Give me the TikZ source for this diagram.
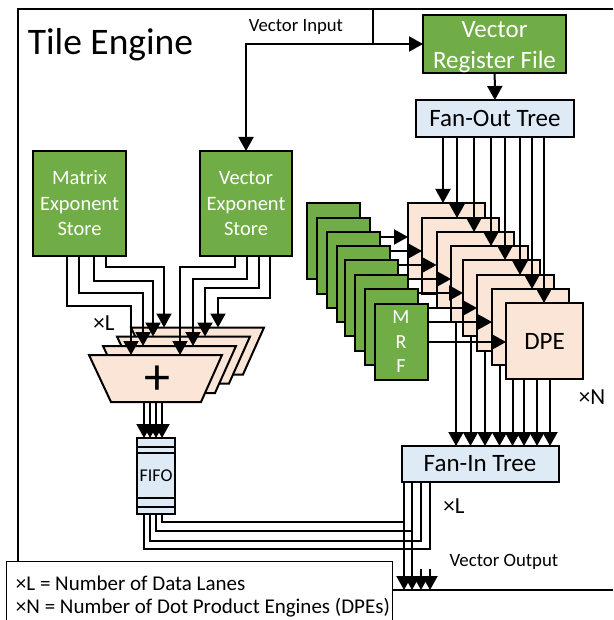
\documentclass[tikz,border=0pt]{standalone}
\usepackage{fontspec}
\setmainfont{Carlito}
\usetikzlibrary{arrows.meta}
\definecolor{mygreen}{HTML}{70AD47}
\definecolor{myblue}{HTML}{DEEAF6}
\definecolor{mypeach}{HTML}{FBE5D6}
\newcommand{\fsize}[1]{\fontsize{#1}{#1}\selectfont}
\tikzset{
  box/.style={draw=black,line width=2pt,rectangle,inner sep=0pt,outer sep=0pt},
  store/.style={box,fill=mygreen,text=white,align=center,minimum width=93pt,minimum height=105pt,font=\fontsize{20.5}{25.5}\selectfont},
  mrf/.style={box,fill=mygreen,text=white,align=center,minimum width=53pt,minimum height=76pt,font=\fontsize{20}{24.5}\selectfont},
  dpe/.style={box,fill=mypeach,minimum width=77pt,minimum height=76pt,font=\fsize{25}},
  tree/.style={box,fill=myblue,font=\fsize{25}},
  adder/.style={draw=black,line width=2pt,fill=mypeach},
  wire/.style={line width=2pt,>={Triangle[width=15pt,length=14pt]}},
  label/.style={inner sep=0pt,outer sep=0pt}
}
\begin{document}
\begin{tikzpicture}[x=1pt,y=-1pt]
\useasboundingbox (0,0) rectangle (613,620);
\coordinate (frame a) at (613,9);
\coordinate (frame b) at (18,9);
\coordinate (frame c) at (18,590);
\coordinate (frame d) at (613,590);
\draw[line width=1.5pt] (frame a) -- (frame b) -- (frame c) -- (frame d);

\node[label,font=\fsize{37.5}] (title) at (110.5,45) {Tile Engine};
\node[label,font=\fsize{18.7}] (vecin) at (296,27) {Vector Input};
\node[label,font=\fsize{18.8}] (vecout) at (504,562) {Vector Output};

\node[store,minimum width=143pt,minimum height=58pt,font=\fontsize{25}{31}\selectfont,text depth=0pt] (vrf) at (494.5,44) {\raisebox{-2.5pt}{Vector}\\\raisebox{-2.5pt}{Register File}};
\node[tree,minimum width=158pt,minimum height=37pt] (fanout) at (495,118.5) {\raisebox{-1.5pt}{Fan-Out Tree}};
\node[tree,minimum width=157pt,minimum height=36pt] (fanin) at (480,464) {\raisebox{-1.5pt}{Fan-In Tree}};
\node[store] (mes) at (79.5,203.5) {\raisebox{-1pt}{Matrix}\\\raisebox{-1pt}{Exponent}\\\raisebox{-1pt}{Store}};
\node[store,minimum width=92pt] (ves) at (246,203.5) {\raisebox{-1pt}{Vector}\\\raisebox{-1pt}{Exponent}\\\raisebox{-1pt}{Store}};

% dot product engines and their register files
\foreach \i/\x/\y in {1/333.5/241,2/343.5/256,3/353.5/270,4/363.5/284,5/371.5/298,6/381.5/313,7/391.5/327}
  \node[mrf] (mrf\i) at (\x,\y) {};
\node[mrf] (mrf8) at (401,342) {M\\R\\F};
\foreach \i/\x/\y in {1/446.5/241,2/460.5/256,3/475/270,4/489.5/284,5/501.5/298,6/515.5/313,7/530.5/327}
  \node[dpe] (dpe\i) at (\x,\y) {};
\node[dpe] (dpe8) at (544.5,341) {DPE};

% adders
\foreach \i/\x/\y in {1/197.5/351,2/183.5/360,3/169.5/369.5,4/155.5/378.5} {
  \draw[adder] (\x-66.5,\y-23.5) -- (\x+66.5,\y-23.5) -- (\x+45.5,\y+23.5) -- (\x-44.5,\y+23.5) -- cycle;
  \coordinate (adder\i) at (\x,\y-23.5);
}
\coordinate (adderout) at (155.5,402);
\node[label,font=\fsize{52}] (plus) at (157,380) {+};

\node[box,fill=myblue,minimum width=38pt,minimum height=76pt,font=\fsize{18}] (fifo) at (156,476) {FIFO};
\coordinate (fifo a) at (137,447);
\coordinate (fifo b) at (137,453);
\coordinate (fifo c) at (137,498);
\coordinate (fifo d) at (137,507);
\foreach \n in {a,b,c,d}
  \draw[line width=1.5pt] (fifo \n) -- (fifo \n -| fifo.east);

\node[label,font=\fsize{23}] (xl) at (104,323) {×L};
\node[label,font=\fsize{23}] (xn) at (592,397) {×N};
\node[label,font=\fsize{23}] (xlb) at (454,506) {×L};

% vector input
\coordinate (vin) at (373,9);
\coordinate (vjoin) at (373,44);
\draw[wire] (vin) -- (vjoin);
\draw[wire,->] (vjoin) -- (vrf.west |- vjoin);
\draw[wire,->] (vjoin) -| (ves.north);
\draw[wire,->] (vrf) -- (fanout);

% fan-out tree to engines
\foreach \i/\x in {1/443,2/457,3/474,4/491,5/505,6/520,7/532,8/544}
  \draw[wire,->] (\x,0 |- fanout.south) -- (\x,0 |- dpe\i.north);

% register files to engines
\foreach \i/\j/\y in {3/1/237,4/2/251,5/3/265,6/4/279,7/5/293,8/6/308,8/7/322,8/8/342}
  \draw[wire,->] (mrf\i.east |- 0,\y) -- (dpe\j.west |- 0,\y);

% engines to fan-in tree
\foreach \i/\x in {4/456,5/470.5,6/485,7/499.5,8/512.5,8/524,8/537,8/550}
  \draw[wire,->] (\x,0 |- dpe\i.south) -- (\x,0 |- fanin.north);

% exponent stores to adders
\foreach \xa/\ya/\xb/\i in {66.7/306/131/4,79.3/293/143/3,94/281/153/2,106/267/164/1}
  \draw[wire,->] (\xa,0 |- mes.south) |- (\xb,\ya) -- (\xb,0 |- adder\i);
\foreach \xa/\ya/\xb/\i in {235/267/180/4,247/279/193/3,259/288/205/2,270/298/218/1}
  \draw[wire,->] (\xa,0 |- ves.south) |- (\xb,\ya) -- (\xb,0 |- adder\i);

% adders to fifo
\foreach \x in {144,150,156,162}
  \draw[wire,->] (\x,0 |- adderout) -- (\x,0 |- fifo.north);

% fifo and fan-in tree to the output
\foreach \xa/\ya/\xb in {144/549/430,150/541/421,156/531/412,162/522/404}
  \draw[wire] (\xa,0 |- fifo.south) |- (\xb,\ya) -- (\xb,0 |- fanin.south);
\coordinate (stub c) at (421,569);
\coordinate (stub d) at (430,569);
\draw[wire,->] (404,0 |- fanin.south) -- (404,0 |- frame d);
\draw[wire,->] (412,0 |- fanin.south) -- (412,0 |- frame d);
\draw[wire,->] (stub c) -- (stub c |- frame d);
\draw[wire,->] (stub d) -- (stub d |- frame d);

\node[box,fill=white,line width=1pt,minimum width=386pt,minimum height=59pt] (legend) at (199,590.5) {};
\node[label,anchor=west,font=\fsize{21}] (legend a) at (16,583.5) {×L = Number of Data Lanes};
\node[label,anchor=west,font=\fsize{21}] (legend b) at (16,607.5) {×N = Number of Dot Product Engines (DPEs)};
\end{tikzpicture}
\end{document}
